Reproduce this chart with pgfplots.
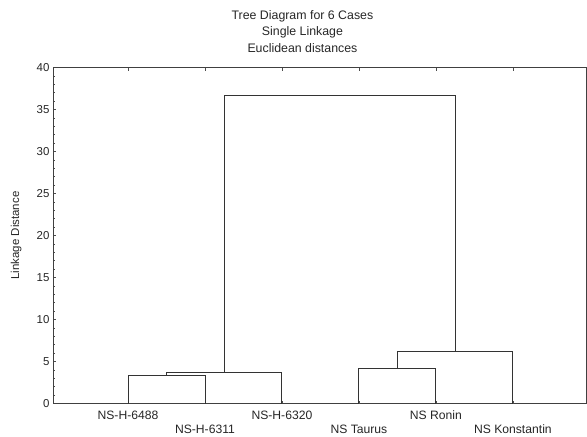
\documentclass[border=0pt]{standalone}
\usepackage{pgfplots}
\pgfplotsset{compat=1.18}
\usepackage{fontspec}
\setmainfont{Liberation Sans}
\begin{document}
\begin{tikzpicture}
\begin{axis}[
  scale only axis,
  width=533bp, height=336bp,
  xmin=0.026, xmax=6.95,
  ymin=0, ymax=40,
  axis line style={black!75, line width=0.7bp},
  tick align=inside,
  major tick length=3bp,
  minor tick length=1.5bp,
  tick style={black!70, line width=0.6bp},
  ytick={0,5,...,40},
  minor y tick num=4,
  ytick pos=left,
  xtick pos=both,
  xtick={1,3,5},
  xticklabels={NS-H-6488,NS-H-6320,NS Ronin},
  extra x ticks={2,4,6},
  extra x tick labels={NS-H-6311,NS Taurus,NS Konstantin},
  extra x tick style={tick label style={yshift=-14bp}},
  xticklabel style={font=\fontsize{12.2}{13}\selectfont, text=black!85, yshift=-4bp},
  yticklabel style={font=\fontsize{11.5}{12}\selectfont, text=black!85},
  /pgf/number format/assume math mode=true,
  ylabel={Linkage Distance},
  ylabel style={font=\fontsize{11.5}{12}\selectfont, text=black!85, at={(axis description cs:0,0.5)}, anchor=south, xshift=0bp, yshift=28bp},
  title={Tree Diagram for 6 Cases\\Single Linkage\\Euclidean distances},
  title style={font=\fontsize{12.4}{16.5}\selectfont, text=black!85, align=center, at={(axis description cs:0.468,1)}, anchor=south, inner sep=0pt, yshift=9bp},
]
\addplot[black!80, line width=0.9bp, mark=none] coordinates {(1,0) (1,3.31) (2,3.31) (2,0)};
\addplot[black!80, line width=0.9bp, mark=none] coordinates {(1.5,3.31) (1.5,3.71) (3,3.71) (3,0)};
\addplot[black!80, line width=0.9bp, mark=none] coordinates {(4,0) (4,4.19) (5,4.19) (5,0)};
\addplot[black!80, line width=0.9bp, mark=none] coordinates {(4.5,4.19) (4.5,6.25) (6,6.25) (6,0)};
\addplot[black!80, line width=0.9bp, mark=none] coordinates {(2.25,3.71) (2.25,36.64) (5.25,36.64) (5.25,6.25)};
\end{axis}
\pgfresetboundingbox
\path (current axis.south west) ++(-53bp,-33.5bp) coordinate (bbA);
\path (current axis.north east) ++(1bp,67.5bp) coordinate (bbB);
\useasboundingbox (bbA) rectangle (bbB);
\end{tikzpicture}
\end{document}
